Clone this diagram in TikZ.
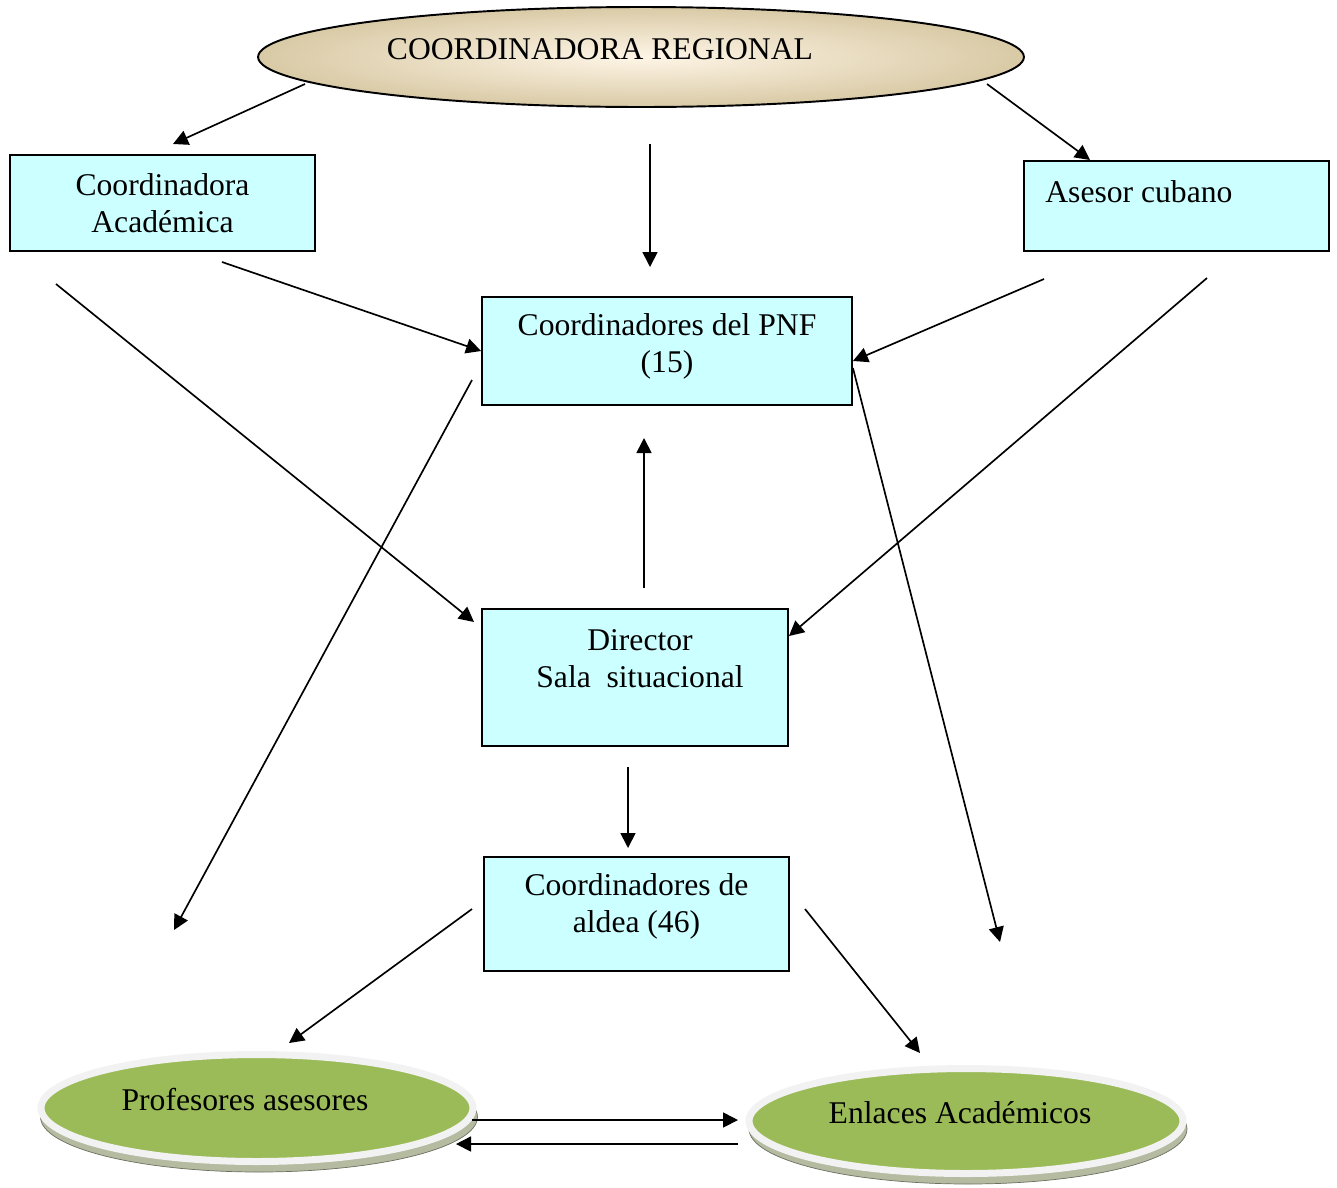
\documentclass[tikz,border=0pt]{standalone}
\usepackage{fontspec}
\setmainfont{Liberation Serif}
\usetikzlibrary{arrows.meta,shapes.geometric}

\definecolor{boxcyan}{HTML}{CCFFFF}
\definecolor{leafgreen}{HTML}{9BBB59}
\definecolor{ringgray}{HTML}{F2F2F2}
\definecolor{rimgreen}{HTML}{B4BBA0}
\definecolor{beigein}{HTML}{FEF5E6}
\definecolor{beigeout}{HTML}{D9CAA6}

\tikzset{
  box/.style={draw, line width=1.1pt, fill=boxcyan, align=center},
  txt/.style={inner sep=0pt, align=center},
  arr/.style={line width=0.95pt, -{Triangle[length=0.3cm,width=0.3cm]}},
  pill/.style={ellipse, fill=leafgreen, draw=ringgray, line width=0.14cm,
    minimum width=8.64cm, minimum height=2.14cm}
}

\begin{document}
\begin{tikzpicture}[x=0.02cm, y=-0.02cm, font=\fontsize{18}{21}\selectfont]
\useasboundingbox (0,0) rectangle (1337,1187);

% top ellipse
\node[ellipse, draw, line width=1.1pt, inner color=beigein, outer color=beigeout,
  minimum width=15.32cm, minimum height=2cm] (reg) at (641,57) {};
\node[txt] (regtxt) at (600,49) {COORDINADORA REGIONAL};

% second row
\node[box, minimum width=6.1cm, minimum height=1.92cm] (acad) at (162.5,203)
  {Coordinadora\\Académica};
\node[box, minimum width=6.1cm, minimum height=1.8cm] (ases) at (1176.5,206) {};
\node[txt, anchor=west] (asestxt) at (1045,192) {Asesor cubano};

% middle boxes
\node[box, minimum width=7.4cm, minimum height=2.16cm] (pnf) at (667,351) {};
\node[txt] (pnftxt) at (667,346) {Coordinadores del PNF\\(15)};
\node[box, minimum width=6.12cm, minimum height=2.74cm] (dir) at (635,677.5) {};
\node[txt] (dirtxt) at (640,659) {Director\\Sala~~situacional};
\node[box, minimum width=6.1cm, minimum height=2.28cm] (ald) at (636.5,914) {};
\node[txt] (aldtxt) at (636.5,906.5) {Coordinadores de\\aldea (46)};

% bottom ellipses
\fill[rimgreen] (259,1117) ellipse [x radius=4.37cm, y radius=1.1cm];
\draw[rimgreen!60!black, line width=0.4pt] (259,1117) ellipse [x radius=4.37cm, y radius=1.1cm];
\node[pill] (prof) at (257,1108) {};
\node[txt] (proftxt) at (245,1099) {Profesores asesores};
\fill[rimgreen] (968,1129) ellipse [x radius=4.38cm, y radius=1.1cm];
\draw[rimgreen!60!black, line width=0.4pt] (968,1129) ellipse [x radius=4.38cm, y radius=1.1cm];
\node[pill, minimum width=8.68cm, minimum height=2.1cm] (enl) at (966,1121) {};
\node[txt] (enltxt) at (960,1113) {Enlaces Académicos};

% free ends
\coordinate (regleft) at (305,84);
\coordinate (regright) at (987,84);
\coordinate (acadin) at (173,144);
\coordinate (regout) at (650,144);
\coordinate (pnfin) at (650,267);
\coordinate (asesin) at (1090,160);
\coordinate (acadout) at (222,262);
\coordinate (acadfar) at (56,284);
\coordinate (dirin) at (474,622);
\coordinate (asesout) at (1044,279);
\coordinate (asesfar) at (1207,278);
\coordinate (pnfout) at (472,380);
\coordinate (profin) at (174,930);
\coordinate (enlin) at (1000,942);
\coordinate (dirup) at (644,588);
\coordinate (pnfup) at (644,438);
\coordinate (dirdown) at (628,767);
\coordinate (aldin) at (628,848);
\coordinate (aldleft) at (472,909);
\coordinate (profin2) at (289,1043);
\coordinate (aldright) at (805,909);
\coordinate (enlin2) at (920,1053);
\coordinate (profr) at (472,1120);
\coordinate (enll) at (738,1120);
\coordinate (enll2) at (738,1144);
\coordinate (profr2) at (456,1144);

% connectors
\draw[arr] (regleft) -- (acadin);
\draw[arr] (regout) -- (pnfin);
\draw[arr] (regright) -- (asesin);
\draw[arr] (acadout) -- (pnf.west);
\draw[arr] (acadfar) -- (dirin);
\draw[arr] (asesout) -- ([yshift=-0.2cm]pnf.east);
\draw[arr] (asesfar) -- ([yshift=-0.56cm]dir.north east);
\draw[arr] (pnfout) -- (profin);
\draw[arr] ([yshift=-0.34cm]pnf.east) -- (enlin);
\draw[arr] (dirup) -- (pnfup);
\draw[arr] (dirdown) -- (aldin);
\draw[arr] (aldleft) -- (profin2);
\draw[arr] (aldright) -- (enlin2);
\draw[arr] (profr) -- (enll);
\draw[arr] (enll2) -- (profr2);
\end{tikzpicture}
\end{document}
